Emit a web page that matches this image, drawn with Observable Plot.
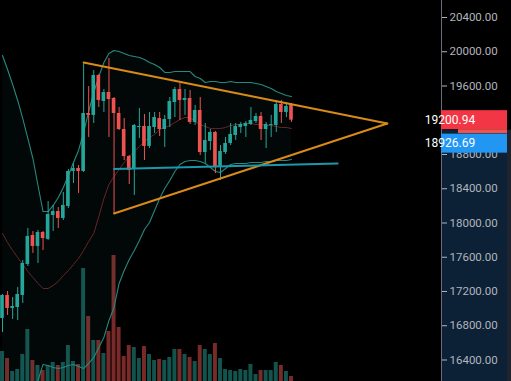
<!DOCTYPE html>
<html><head><meta charset="utf-8">
<script src="https://cdn.jsdelivr.net/npm/d3@7"></script>
<script src="https://cdn.jsdelivr.net/npm/@observablehq/plot@0.6"></script>
<style>
html,body{margin:0;padding:0;background:#000;overflow:hidden}
#wrap{position:relative;width:511px;height:381px;background:#000;overflow:hidden}
#wrap svg{position:absolute;left:0}
</style></head><body><div id="wrap"></div>
<script>
// candle data (index = bar number)
const opens = [16885,17154,17002,17013,17154,17516,17854,17726,17889,17808,
18088,18134,18053,18193,18602,18637,18602,19279,19256,19723,
19419,19524,19454,19279,19092,18777,18625,19115,19127,18894,
19115,19220,19092,19209,19407,19559,19431,19454,19174,19314,
18823,18952,19057,18648,18823,18929,19022,19115,19127,19150,
19185,19244,19092,19139,19139,19384,19291,19384];
const highs = [17165,17200,17130,17247,17562,17936,17901,17913,17901,18251,
18205,18181,18356,18625,18695,18672,19874,19594,19781,19734,
19559,19921,19466,19349,19220,18788,19150,19337,19267,19291,
19291,19291,19256,19466,19583,19629,19559,19548,19372,19466,
19162,19092,19069,18905,18999,19162,19162,19174,19185,19349,
19279,19291,19174,19256,19431,19431,19407,19396];
const lows = [16721,16920,16873,16862,17060,17492,17644,17527,17679,17796,
17901,17936,18029,18170,18461,18345,18590,18999,19162,19349,
19291,18999,18111,19080,18730,18450,18321,18987,18730,18870,
19045,19010,18882,19115,19232,19197,19256,19150,19139,18788,
18695,18847,18578,18496,18800,18905,18964,19045,18999,19139,
19162,18964,18870,18999,19057,19162,19232,19174];
const closes = [17154,17002,17025,17165,17527,17843,17726,17889,17819,18099,
18134,18053,18205,18602,18637,18602,19279,19256,19723,19431,
19524,19442,19279,19092,18777,18613,19139,19127,18894,19127,
19232,19092,19209,19419,19559,19431,19454,19174,19314,18823,
18964,19057,18648,18835,18929,19034,19127,19150,19162,19197,
19244,19092,19150,19150,19384,19291,19361,19200.94];
const volumes = [3000,2300,1000,1200,2700,5200,2100,1600,1100,1600,
1900,1600,1900,3600,2000,1700,11300,6500,4100,4100,
2800,5000,12600,5400,2500,3600,3400,2300,3500,2700,
2100,2200,2100,2400,3200,3200,2700,2400,2000,3600,
3200,2700,3800,2300,1200,1100,1000,1200,1100,1700,
700,1100,1100,1100,1900,1600,1000,500];
// Bollinger bands
const bbUpper = [19956,19793,19618,19431,19220,18987,18753,18438,18134,18134,
18205,18298,18415,18555,18707,18847,19057,19302,19524,19711,
19874,19980,20015,20003,19980,19956,19945,19933,19910,19874,
19851,19816,19758,19758,19769,19769,19769,19769,19711,19688,
19641,19653,19653,19641,19641,19653,19641,19641,19641,19641,
19629,19618,19594,19571,19536,19512,19489,19477];
const bbBasis = [17878,17772,17679,17597,17516,17434,17364,17294,17235,17235,
17270,17317,17387,17445,17516,17586,17679,17784,17878,18076,
18286,18450,18543,18625,18707,18777,18835,18894,18952,18999,
19034,19092,19115,19139,19174,19209,19232,19232,19185,19150,
19127,19104,19104,19104,19115,19139,19150,19150,19162,19162,
19150,19150,19139,19139,19127,19115,19115,19104];
const bbLower = [15810,15764,15752,15787,15857,15951,16044,16161,16348,16336,
16313,16301,16313,16336,16348,16324,16301,16359,16430,16546,
16663,16862,17013,17294,17445,17574,17679,17796,17924,18006,
18146,18286,18403,18496,18602,18683,18718,18730,18730,18718,
18695,18648,18602,18590,18637,18683,18695,18695,18695,18707,
18707,18707,18718,18718,18730,18730,18730,18742];
// drawings
const triTopIdx = [16, 75.9];   const triTopPrice = [19874, 19162];
const triBotIdx = [22, 75.9];   const triBotPrice = [18111, 19162];
const hLineIdx = [22, 66.1];    const hLinePrice = [18632, 18695];
// axis (the 19200 tick sits hidden under the last-price label)
const priceTicks = [16400,16800,17200,17600,18000,18400,18800,19600,20000,20400];
const lastPrice = 19200.94;
const markPrice = 18926.69;

const W = 511, H = 381;
const idx = d3.range(opens.length);
const xDomain = [-0.3945, 86.59];
const yDomain = [16148.9, 20598.5];
const color = i => closes[i] >= opens[i] ? "#26a69a" : "#ef5350";
const wrap = document.getElementById("wrap");

const vol = Plot.plot({
  width: W, height: 130, marginLeft: 0, marginRight: 70, marginTop: 0, marginBottom: 0,
  x: {domain: xDomain, axis: null},
  y: {domain: [0, 13000], axis: null},
  style: {background: "transparent"},
  marks: [
    Plot.rect(idx, {x1: i => i - 0.39, x2: i => i + 0.39, y1: 0, y2: i => volumes[i], fill: color, fillOpacity: 0.5})
  ]
});
vol.style.top = (H - 130) + "px";
wrap.appendChild(vol);

const price = Plot.plot({
  width: W, height: H, marginLeft: 0, marginRight: 70, marginTop: 0, marginBottom: 0,
  x: {domain: xDomain, axis: null},
  y: {domain: yDomain, axis: null},
  style: {background: "transparent", color: "#b2b5be", fontFamily: "Roboto, sans-serif", fontSize: "11.5px"},
  marks: [
    Plot.areaY(idx, {x: i => i, y1: i => bbLower[i], y2: i => bbUpper[i], fill: "#26a69a", fillOpacity: 0.05, clip: true}),
    Plot.line(idx, {x: i => i, y: i => bbUpper[i], stroke: "#26897f", strokeWidth: 1.1, clip: true}),
    Plot.line(idx, {x: i => i, y: i => bbLower[i], stroke: "#26897f", strokeWidth: 1.1, clip: true}),
    Plot.line(idx, {x: i => i, y: i => bbBasis[i], stroke: "#6a2424", strokeWidth: 1, clip: true}),
    Plot.ruleX(idx, {x: i => i, y1: i => lows[i], y2: i => highs[i], stroke: color, strokeWidth: 1}),
    Plot.rect(idx, {x1: i => i - 0.36, x2: i => i + 0.36, y1: i => opens[i], y2: i => closes[i], fill: color}),
    Plot.line(d3.range(2), {x: j => triTopIdx[j], y: j => triTopPrice[j], stroke: "#d98a17", strokeWidth: 2}),
    Plot.line(d3.range(2), {x: j => triBotIdx[j], y: j => triBotPrice[j], stroke: "#d98a17", strokeWidth: 2}),
    Plot.line(d3.range(2), {x: j => hLineIdx[j], y: j => hLinePrice[j], stroke: "#1c98ad", strokeWidth: 2}),
    Plot.axisY(priceTicks, {anchor: "right", tickSize: 5, tickPadding: 3, tickFormat: d3.format(".2f"), color: "#b2b5be"}),
    Plot.frame({anchor: "right", stroke: "#6a6d78"})
  ]
});
price.style.top = "0px";
wrap.appendChild(price);

// price-scale decorations positioned through the y scale
const ys = price.scale("y");
const svg = d3.select(price);
const axisX = W - 70;
const yl = ys.apply(lastPrice);
const ym = ys.apply(markPrice);
svg.insert("rect", "g").attr("x", axisX + 0.5).attr("y", yl + 10).attr("width", 66).attr("height", H - yl - 10).attr("fill", "#0c2135");
svg.insert("rect", "g").attr("x", axisX + 66).attr("y", yl + 10).attr("width", 4).attr("height", H - yl - 10).attr("fill", "#1f232e");
svg.append("rect").attr("x", axisX + 17).attr("y", yl + 9.5).attr("width", 49).attr("height", 4).attr("fill", "#ef5350");
svg.append("rect").attr("x", axisX).attr("y", yl - 9.5).attr("width", 66).attr("height", 19).attr("fill", "#f23645");
svg.append("text").attr("x", axisX + 9).attr("y", yl).attr("dy", "0.36em").attr("fill", "#fff")
  .attr("font-family", "Roboto, sans-serif").attr("font-size", 12).text(d3.format(".2f")(lastPrice));
svg.append("rect").attr("x", axisX).attr("y", ym - 9.5).attr("width", 66).attr("height", 19).attr("fill", "#2196f3");
svg.append("text").attr("x", axisX + 9).attr("y", ym).attr("dy", "0.36em").attr("fill", "#fff")
  .attr("font-family", "Roboto, sans-serif").attr("font-size", 12).text(d3.format(".2f")(markPrice));
</script>
</body></html>
